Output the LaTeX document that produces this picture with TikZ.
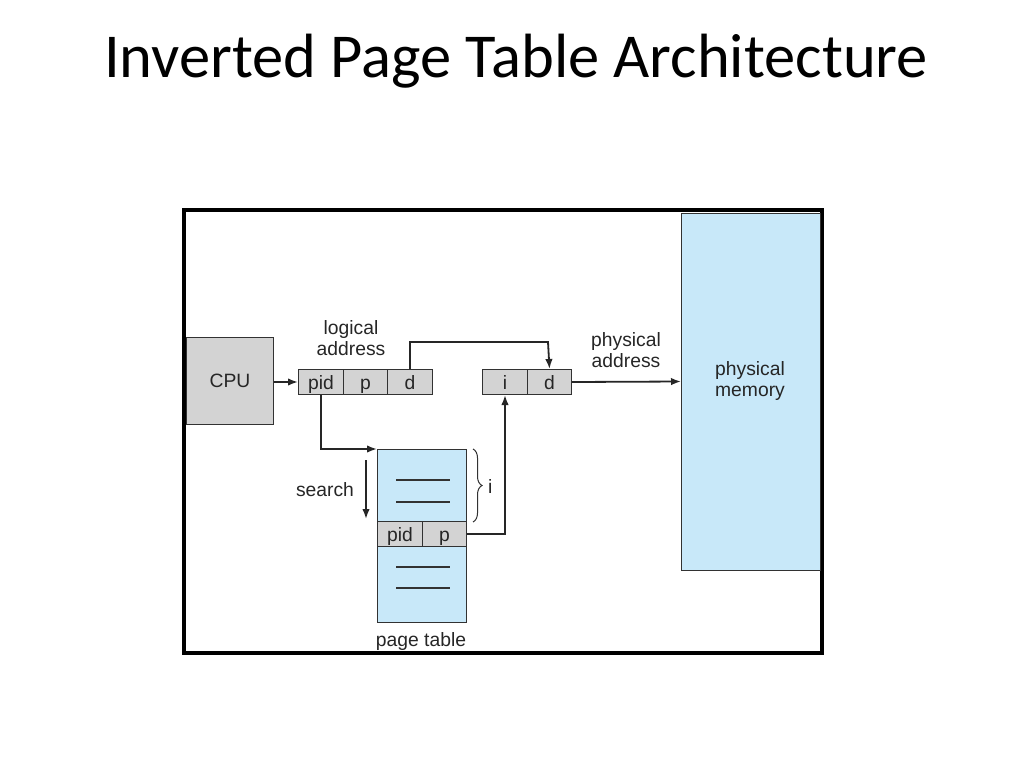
\documentclass[tikz,border=0pt]{standalone}
\usepackage{fontspec}
\setmainfont{Liberation Sans}
\newfontfamily\titlefont{Carlito}
\usetikzlibrary{arrows.meta,decorations.pathreplacing}
\definecolor{boxgray}{RGB}{211,211,211}
\definecolor{memblue}{RGB}{200,232,249}
\definecolor{edge}{RGB}{50,50,50}
\tikzset{
  graybox/.style={draw=edge,line width=1pt,fill=boxgray,inner sep=0pt},
  bluebox/.style={draw=edge,line width=1pt,fill=memblue,inner sep=0pt},
  lbl/.style={font=\fontsize{19.3}{21.5}\selectfont,text=black!85,align=center,inner sep=0pt},
  cell/.style={font=\fontsize{19.3}{21.5}\selectfont,text=black!85,inner sep=0pt,text height=17pt,text depth=2pt},
  conn/.style={line width=1.8pt,draw=black!85,-{Latex[length=10pt,width=7.5pt]}},
  rule/.style={line width=1.2pt,draw=edge}
}
\begin{document}
\begin{tikzpicture}[x=1pt,y=-1pt]
\useasboundingbox (0,0) rectangle (1024,768);
\fill[white] (0,0) rectangle (1024,768);
% title
\node[font=\titlefont\fontsize{62.5}{72}\selectfont,inner sep=0pt] (title) at (516,61) {Inverted Page Table Architecture};
% frame
\draw[line width=3.5pt] (184,210) rectangle (822,653);
% physical memory
\draw[bluebox] (681,213) rectangle (820,570);
\node[lbl] (mem) at (750,381) {physical\\memory};
% CPU
\node[graybox,minimum width=87pt,minimum height=87pt,anchor=north west] (cpu) at (186,337) {};
\node[lbl] at (cpu.center) {CPU};
% logical address
\node[graybox,minimum width=45pt,minimum height=25pt,anchor=north west] (pid) at (298,369) {};
\node[graybox,minimum width=44pt,minimum height=25pt,anchor=north west] (p) at (343,369) {};
\node[graybox,minimum width=45pt,minimum height=25pt,anchor=north west] (d) at (387,369) {};
\node[cell] at (pid.center) {pid};
\node[cell] at (p.center) {p};
\node[cell] at (d.center) {d};
\node[lbl] (la) at (351,338) {logical\\address};
% physical address
\node[graybox,minimum width=45pt,minimum height=25pt,anchor=north west] (pi) at (482,369) {};
\node[graybox,minimum width=44pt,minimum height=25pt,anchor=north west] (pd) at (527,369) {};
\node[cell] at (pi.center) {i};
\node[cell] at (pd.center) {d};
\node[lbl] (pa) at (626,350) {physical\\address};
% page table
\draw[bluebox] (377,449) rectangle (466,622);
\coordinate (pttop) at (377,449);
\node[graybox,minimum width=45pt,minimum height=25pt,anchor=north west] (tpid) at (377,521) {};
\node[graybox,minimum width=44pt,minimum height=25pt,anchor=north west] (tp) at (422,521) {};
\node[cell] at (tpid.center) {pid};
\node[cell] at (tp.center) {p};
\draw[rule] (396,480) -- (450,480);
\draw[rule] (396,502) -- (450,502);
\draw[rule] (396,567) -- (450,567);
\draw[rule] (396,588) -- (450,588);
\node[lbl] (ptl) at (421,641) {page table};
% brace
\draw[line width=1pt,draw=edge,decorate,decoration={brace,amplitude=9pt}] (473,449) -- (473,522);
\node[lbl,anchor=west] (ilbl) at (488,487) {i};
% search
\coordinate (s1) at (366,460);
\coordinate (s2) at (366,519);
\draw[conn] (s1) -- (s2);
\node[lbl] (search) at (325,490) {search};
% connectors
\coordinate (memin) at (681,381.5);
\draw[conn] (cpu.east |- pid.west) -- (pid.west);
\draw[conn] (pid.south) |- (pttop);
\draw[conn] (d.north) |- (548,342) -- (pd.north);
\draw[conn] (tp.east) -| (pi.south);
\draw[conn] (pd.east) -- (memin);
\end{tikzpicture}
\end{document}
